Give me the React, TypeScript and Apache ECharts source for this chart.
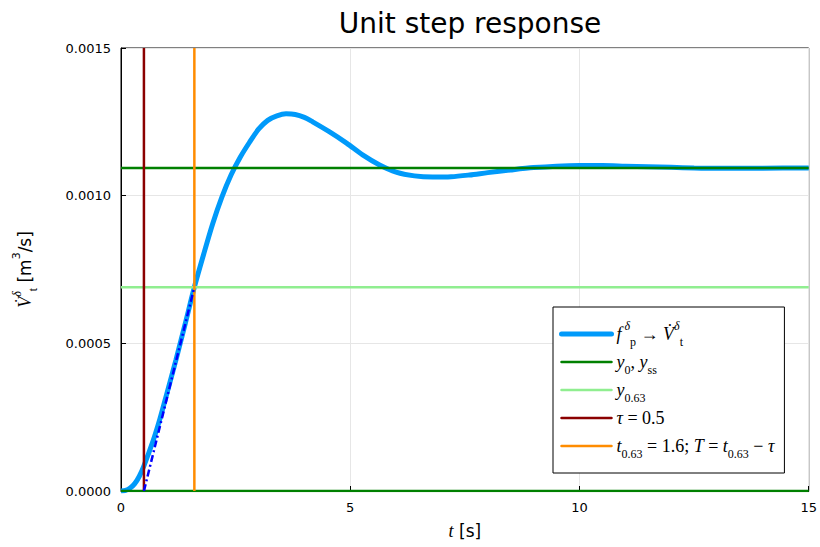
import React, { useEffect, useRef } from "react";
import * as echarts from "echarts";

// Step response
const timeS: number[] = [
  0, 0.1, 0.2, 0.3, 0.4, 0.5, 0.7, 0.85, 1.0, 1.2, 1.4, 1.6, 1.8, 2.0, 2.2, 2.4, 2.6, 2.8, 3.0, 3.2,
  3.4, 3.6, 3.8, 4.0, 4.18, 4.55, 4.92, 5.27, 5.64, 6.0, 6.4, 6.8, 7.2, 7.6, 8.0, 8.5, 9.0, 9.5, 10.0,
  10.5, 11.0, 11.5, 12.0, 12.5, 13.0, 14.0, 15.0,
];
const responseM3s: number[] = [
  0, 0.000002, 0.00001, 0.000025, 0.00005, 0.000085, 0.00017, 0.000245, 0.00033, 0.000445, 0.000566,
  0.00069, 0.0008, 0.000905, 0.000995, 0.00107, 0.00113, 0.00118, 0.001225, 0.001255, 0.00127,
  0.001277, 0.001275, 0.001265, 0.00125, 0.001216, 0.001178, 0.001138, 0.001104, 0.00108, 0.001067,
  0.001063, 0.001064, 0.00107, 0.001078, 0.001087, 0.001095, 0.0011, 0.001102, 0.001102, 0.0011,
  0.001098, 0.001096, 0.001094, 0.001093, 0.001093, 0.001094,
];
const yInitial = 0;
const ySteady = 0.001094;
const y063 = 0.00069;
const tau = 0.5;
const t063 = 1.6;
const xTicks: number[] = [0, 5, 10, 15];
const yTicks: number[] = [0, 0.0005, 0.001, 0.0015];

const seriesNames = ["fp", "yss", "y063", "tau", "t063"];
const seriesColors: Record<string, string> = {
  fp: "#009AFA",
  yss: "#008000",
  y063: "#90EE90",
  tau: "#8B0000",
  t063: "#FF8C00",
};
const legendLabels: Record<string, string> = {
  fp: "{m|f}{sup| δ}{sub|p}{r| → }{m|V̇}{sup|δ}{sub|t}",
  yss: "{m|y}{sub|0}{r|, }{m|y}{sub|ss}",
  y063: "{m|y}{sub|0.63}",
  tau: "{m|τ}{r| = 0.5}",
  t063: "{m|t}{sub|0.63}{r| = 1.6; }{m|T}{r| = }{m|t}{sub|0.63}{r| − }{m|τ}",
};

const serif = "'Liberation Serif', 'DejaVu Serif', serif";
const sans = "'DejaVu Sans', sans-serif";

const LH = 28;
const mathRich = {
  m: { fontFamily: serif, fontStyle: "italic", fontSize: 18, lineHeight: LH, verticalAlign: "middle", color: "#000" },
  r: { fontFamily: serif, fontSize: 18, lineHeight: LH, verticalAlign: "middle", color: "#000" },
  sub: { fontFamily: serif, fontSize: 12, lineHeight: 14, verticalAlign: "bottom", color: "#000" },
  sup: { fontFamily: serif, fontStyle: "italic", fontSize: 12, lineHeight: 14, verticalAlign: "top", color: "#000" },
  s: { fontFamily: sans, fontSize: 17, lineHeight: LH, verticalAlign: "middle", color: "#000" },
  ss: { fontFamily: sans, fontSize: 11, lineHeight: 14, verticalAlign: "top", color: "#000" },
};

export default function App() {
  const ref = useRef<HTMLDivElement>(null);
  useEffect(() => {
    if (!ref.current) return;
    const chart = echarts.init(ref.current, null, { renderer: "svg" });
    const yMax = yTicks[yTicks.length - 1];
    const xMax = xTicks[xTicks.length - 1];
    const curve = timeS.map((t, i) => [t, responseM3s[i]]);
    const baseLine = {
      type: "line",
      symbol: "none",
      silent: true,
    };
    chart.setOption({
      animation: false,
      backgroundColor: "#fff",
      title: {
        text: "Unit step response",
        left: 465,
        top: 4,
        textAlign: "center",
        textStyle: { fontFamily: sans, fontSize: 28, fontWeight: "normal", color: "#000" },
      },
      grid: {
        left: 121,
        right: 10,
        top: 48,
        bottom: 56,
        show: true,
        borderColor: "#000",
        borderWidth: 1,
        containLabel: false,
      },
      legend: {
        data: seriesNames.map((n) => ({
          name: n,
          lineStyle: { color: seriesColors[n], width: n === "fp" ? 5 : 2.5, cap: "round" },
          itemStyle: { color: "rgba(0,0,0,0)", borderColor: "rgba(0,0,0,0)", borderWidth: 0 },
        })),
        orient: "vertical",
        left: 553,
        top: 307,
        padding: [13, 10, 13, 6],
        itemGap: 0,
        itemWidth: 50,
        itemHeight: 28,
        borderColor: "#000",
        borderWidth: 1,
        backgroundColor: "#fff",
        formatter: (name: string) => legendLabels[name] || name,
        textStyle: { rich: mathRich, color: "#000", lineHeight: LH },
      },
      xAxis: {
        type: "value",
        min: xTicks[0],
        max: xMax,
        interval: 5,
        name: "{m|t}{s| [s]}",
        nameLocation: "middle",
        nameGap: 26,
        nameTextStyle: { rich: mathRich },
        axisLine: { show: true, lineStyle: { color: "#000", width: 1 } },
        axisTick: { show: true, inside: true, length: 5, lineStyle: { color: "#000" } },
        axisLabel: { fontFamily: sans, fontSize: 13, color: "#000", margin: 10 },
        splitLine: { show: true, lineStyle: { color: "#e6e6e6", width: 1 } },
      },
      yAxis: {
        type: "value",
        min: yTicks[0],
        max: yMax,
        interval: 0.0005,
        name: "{m|V̇}{sup|δ}{sub|t}{s| [m}{ss|3}{s|/s]}",
        nameLocation: "middle",
        nameGap: 82,
        nameTextStyle: { rich: mathRich },
        axisLine: { show: true, lineStyle: { color: "#000", width: 1 } },
        axisTick: { show: true, inside: true, length: 5, lineStyle: { color: "#000" } },
        axisLabel: {
          fontFamily: sans,
          fontSize: 13,
          color: "#000",
          margin: 10,
          formatter: (v: number) => v.toFixed(4),
        },
        splitLine: { show: true, lineStyle: { color: "#e6e6e6", width: 1 } },
      },
      series: [
        {
          ...baseLine,
          name: "fp",
          data: curve,
          smooth: 0.3,
          lineStyle: { color: seriesColors.fp, width: 5 },
          itemStyle: { color: seriesColors.fp },
        },
        {
          ...baseLine,
          name: "yss",
          data: [[0, ySteady], [xMax, ySteady]],
          lineStyle: { color: seriesColors.yss, width: 2.5 },
          itemStyle: { color: seriesColors.yss },
        },
        {
          ...baseLine,
          name: "yss",
          data: [[0, yInitial], [xMax, yInitial]],
          lineStyle: { color: seriesColors.yss, width: 2.5 },
          itemStyle: { color: seriesColors.yss },
        },
        {
          ...baseLine,
          name: "y063",
          data: [[0, y063], [xMax, y063]],
          lineStyle: { color: seriesColors.y063, width: 2.5 },
          itemStyle: { color: seriesColors.y063 },
        },
        {
          ...baseLine,
          name: "tau",
          data: [[tau, 0], [tau, yMax]],
          lineStyle: { color: seriesColors.tau, width: 2.5 },
          itemStyle: { color: seriesColors.tau },
        },
        {
          ...baseLine,
          name: "t063",
          data: [[t063, 0], [t063, yMax]],
          lineStyle: { color: seriesColors.t063, width: 2.5 },
          itemStyle: { color: seriesColors.t063 },
        },
        {
          ...baseLine,
          name: "tangent",
          data: [[tau, yInitial], [t063, y063]],
          lineStyle: { color: "#0000FF", width: 2.5, type: [7, 3, 2, 3] },
          itemStyle: { color: "#0000FF" },
        },
      ],
    });
    return () => chart.dispose();
  }, []);
  return (
    <div
      ref={ref}
      style={{ position: "fixed", left: 0, top: 0, width: 820, height: 547, background: "#fff" }}
    />
  );
}
